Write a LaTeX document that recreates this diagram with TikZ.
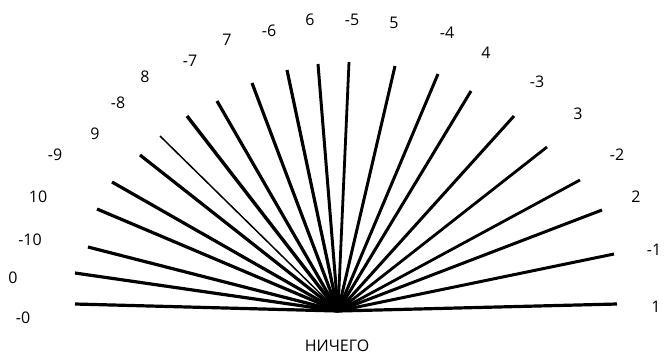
\documentclass[tikz,border=0pt]{standalone}
\usepackage{fontspec}
\setmainfont{Open Sans}
\begin{document}
\begin{tikzpicture}[x=1pt,y=-1pt,lbl/.style={font=\fontsize{16}{18}\selectfont,inner sep=0pt}]
\useasboundingbox (0,0) rectangle (668,357);
\coordinate (hub) at (338,311);
% rays: index/label/end point/label position/width
\foreach \i/\t/\ex/\ey/\lx/\ly/\w in {
  1/-0/75/304/23/318/3.2pt, 2/0/75/273/13/278/3.2pt, 3/-10/88/247/30/240/3.2pt,
  4/10/97/209/38/197/3.2pt, 5/-9/112/182/55/155/3.2pt, 6/9/140/155/95/134/3.2pt,
  7/-8/160/136/118/103/1.5pt, 8/8/187/116/145/77/3.4pt, 9/-7/217/101/190/61/3.2pt,
  10/7/252/83/227/40/3.2pt, 11/-6/287/70/269/31/3.2pt, 12/6/318/64/310/20/3pt,
  13/-5/349/62/352/20/2.8pt, 14/5/395/66/394/23/3pt, 15/-4/438/74/447/33/3pt,
  16/4/471/91/486/53/3pt, 17/-3/514/116/537/82/3pt, 18/3/547/147/578/114/2.8pt,
  19/-2/580/180/617/155/2.8pt, 20/2/602/210/636/197/3pt, 21/-1/614/254/654/250/3pt,
  22/1/617/304/656/307/3.2pt}{
  \coordinate (e\i) at (\ex,\ey);
  \draw[line width=\w] (hub) -- (e\i);
  \node[lbl] (l\i) at (\lx,\ly) {\t};
}
\node[lbl] (nothing) at (337,346) {НИЧЕГО};
\end{tikzpicture}
\end{document}
